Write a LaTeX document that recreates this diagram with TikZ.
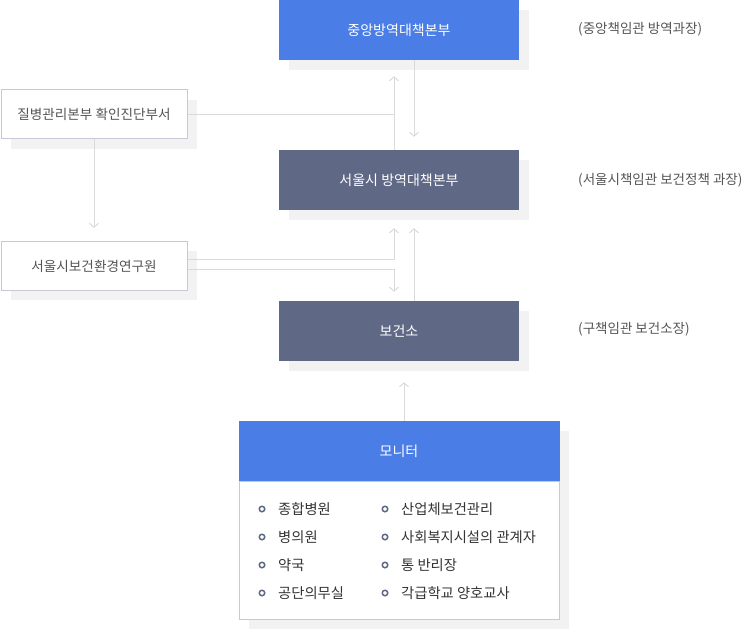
\documentclass[tikz,border=0pt]{standalone}
\usepackage{fontspec}
\setmainfont{Noto Sans CJK KR}
\usetikzlibrary{arrows.meta,calc}
\definecolor{topblue}{HTML}{4A7DE6}
\definecolor{slate}{HTML}{5F6885}
\definecolor{shadowgray}{HTML}{F2F2F2}
\definecolor{edgegray}{HTML}{C8C9D8}
\definecolor{linegray}{HTML}{DADADA}
\definecolor{txtgray}{HTML}{555555}
\definecolor{txtdark}{HTML}{333333}
\tikzset{
  bluebox/.style={fill=topblue, draw=none, text=white, minimum width=240pt, minimum height=60pt, inner sep=0pt, font=\fontsize{14}{16}\selectfont},
  slatebox/.style={fill=slate, draw=none, text=white, minimum width=240pt, minimum height=60pt, inner sep=0pt, font=\fontsize{14}{16}\selectfont},
  sidebox/.style={fill=white, draw=edgegray, line width=1pt, text=txtgray, minimum width=186pt, minimum height=49pt, inner sep=0pt, font=\fontsize{13.6}{16}\selectfont},
  shadowbox/.style={fill=shadowgray, draw=none},
  conn/.style={draw=linegray, line width=1pt},
  arr/.style={conn, -{Straight Barb[length=4pt,width=9pt]}},
  sidelabel/.style={anchor=west, text=txtgray, inner sep=0pt, font=\fontsize{13.5}{16}\selectfont},
  item/.style={anchor=west, text=txtdark, inner sep=0pt, font=\fontsize{14.3}{16}\selectfont},
  dot/.style={draw=slate, line width=1.5pt, fill=white, circle, inner sep=0pt, minimum size=5.5pt},
}
\begin{document}
\begin{tikzpicture}[x=1pt,y=-1pt]
\useasboundingbox (0,0) rectangle (743,631);
% shadows
\fill[shadowgray] (289,10) rectangle (529,70);
\fill[shadowgray] (289,160) rectangle (529,220);
\fill[shadowgray] (289,311) rectangle (529,371);
\fill[shadowgray] (249,431) rectangle (569,629);
\fill[shadowgray] (11,100) rectangle (197,149);
\fill[shadowgray] (11,251) rectangle (197,300);
% main boxes
\node[bluebox] (top) at (399,30) {중앙방역대책본부};
\node[slatebox] (seoul) at (399,180) {서울시 방역대책본부};
\node[slatebox] (bogeon) at (399,331) {보건소};
\node[fill=white, draw=edgegray, line width=1pt, minimum width=320pt, minimum height=138pt, inner sep=0pt] (monbody) at (399,550) {};
\node[bluebox, minimum width=321pt] (monhead) at (399,451) {모니터};
% side boxes
\node[sidebox] (left1) at (94,114.5) {질병관리본부 확인진단부서};
\node[sidebox] (left2) at (94,266) {서울시보건환경연구원};
% right labels
\node[sidelabel] (lab1) at (578,29) {(중앙책임관 방역과장)};
\node[sidelabel] (lab2) at (578,180) {(서울시책임관 보건정책 과장)};
\node[sidelabel] (lab3) at (578,329) {(구책임관 보건소장)};
% connectors
\coordinate (j) at ([xshift=-5pt]seoul.north);
\draw[arr] ([xshift=15pt]top.south) -- ([xshift=15pt,yshift=13pt]seoul.north);
\draw[arr] (j) -- ([xshift=-5pt,yshift=-16pt]top.south);
\draw[conn] (left1.east) -- (left1.east -| j);
\draw[arr] (left1.south) -- ([yshift=13pt]left2.north);
\draw[arr] ([yshift=7pt]left2.east) -| ([xshift=-5pt,yshift=-18pt]seoul.south);
\draw[arr] ([yshift=-3pt]left2.east) -| ([xshift=-5pt,yshift=9pt]bogeon.north);
\draw[arr] ([xshift=15pt]bogeon.north) -- ([xshift=15pt,yshift=-18pt]seoul.south);
\draw[arr] ([xshift=5pt]monhead.north) -- ([xshift=5pt,yshift=-21pt]bogeon.south);
% list
\foreach \y/\a/\b [count=\i] in {509/종합병원/산업체보건관리, 537/병의원/사회복지시설의 관계자, 565/약국/통 반리장, 593/공단의무실/각급학교 양호교사} {
  \node[dot] (da\i) at (262,\y) {};
  \node[item] (ta\i) at (278,\y) {\a};
  \node[dot] (db\i) at (385,\y) {};
  \node[item] (tb\i) at (401,\y) {\b};
}
\end{tikzpicture}
\end{document}
